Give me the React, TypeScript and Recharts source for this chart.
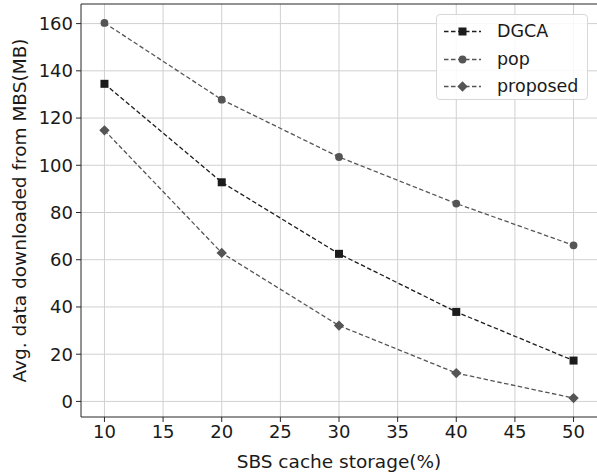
import React from 'react';
import {
  CartesianGrid,
  Line,
  LineChart,
  ReferenceLine,
  XAxis,
  YAxis,
} from 'recharts';

const storage = [10, 20, 30, 40, 50];
const dgca = [134.5, 92.8, 62.5, 37.9, 17.3];
const pop = [160.3, 127.8, 103.5, 83.8, 66.1];
const proposed = [114.8, 62.9, 32.1, 12.0, 1.4];
const xTicks = [10, 15, 20, 25, 30, 35, 40, 45, 50];
const yTicks = [0, 20, 40, 60, 80, 100, 120, 140, 160];

const X_DOMAIN: [number, number] = [8, 52];
const Y_DOMAIN: [number, number] = [-6.6, 168.3];

const FONT = '"DejaVu Sans", sans-serif';
const FONT_SIZE = 18;
const LABEL_SIZE = 18.5;
const SPINE = '#262626';
const GRID = '#d0d0d0';
const DASH = '4.5 2.5';

const data = storage.map((s, i) => ({ s, dgca: dgca[i], pop: pop[i], proposed: proposed[i] }));

type Shape = 'square' | 'circle' | 'diamond';

function Marker({ cx, cy, shape, color }: { cx: number; cy: number; shape: Shape; color: string }) {
  if (shape === 'square') return <rect x={cx - 4} y={cy - 4} width={8} height={8} fill={color} />;
  if (shape === 'circle') return <circle cx={cx} cy={cy} r={3.9} fill={color} />;
  return <polygon points={`${cx},${cy - 5.2} ${cx + 5.2},${cy} ${cx},${cy + 5.2} ${cx - 5.2},${cy}`} fill={color} />;
}

const SERIES: { key: string; name: string; color: string; shape: Shape }[] = [
  { key: 'dgca', name: 'DGCA', color: '#1c1c1c', shape: 'square' },
  { key: 'pop', name: 'pop', color: '#555555', shape: 'circle' },
  { key: 'proposed', name: 'proposed', color: '#555555', shape: 'diamond' },
];

// legend drawn outside the chart so it does not take space from the plot
function LegendBox() {
  return (
    <div
      style={{
        position: 'absolute',
        left: 436,
        top: 14,
        width: 150,
        height: 84,
        border: '1px solid #d8d8d8',
        borderRadius: 4,
        background: 'rgba(255,255,255,0.85)',
        fontFamily: FONT,
        fontSize: 17.5,
        color: '#1a1a1a',
      }}
    >
      {SERIES.map((s, i) => (
        <div key={s.key} style={{ position: 'absolute', left: 0, top: 3 + i * 27.5, height: 27, display: 'flex', alignItems: 'center' }}>
          <svg width={60} height={27} style={{ display: 'block' }}>
            <line x1={7} x2={44} y1={13.5} y2={13.5} stroke={s.color} strokeWidth={1.3} strokeDasharray={DASH} />
            <Marker cx={25.5} cy={13.5} shape={s.shape} color={s.color} />
          </svg>
          <span style={{ lineHeight: '27px' }}>{s.name}</span>
        </div>
      ))}
    </div>
  );
}

export default function App() {
  return (
    <div style={{ position: 'absolute', left: 0, top: 0, width: 597, height: 476, background: '#fff' }}>
      <LineChart width={597} height={476} data={data} margin={{ top: 4, right: 0, left: 0, bottom: 0 }}>
        <CartesianGrid stroke={GRID} strokeWidth={1} horizontalValues={yTicks} verticalValues={xTicks} />
        <XAxis
          dataKey="s"
          type="number"
          domain={X_DOMAIN}
          ticks={xTicks}
          allowDataOverflow
          height={59}
          tickSize={5}
          tickMargin={3}
          stroke={SPINE}
          tick={{ fill: '#1a1a1a', fontSize: FONT_SIZE, fontFamily: FONT }}
          label={{
            content: ({ viewBox }: any) => (
              <text
                x={viewBox.x + viewBox.width / 2}
                y={viewBox.y + 51}
                textAnchor="middle"
                fill="#1a1a1a"
                fontSize={LABEL_SIZE}
                fontFamily={FONT}
              >
                SBS cache storage(%)
              </text>
            ),
          }}
        />
        <YAxis
          type="number"
          domain={Y_DOMAIN}
          ticks={yTicks}
          allowDataOverflow
          width={81}
          tickSize={5}
          tickMargin={3}
          stroke={SPINE}
          tick={{ fill: '#1a1a1a', fontSize: FONT_SIZE, fontFamily: FONT }}
          label={{
            content: ({ viewBox }: any) => {
              const cx = 19;
              const cy = viewBox.y + viewBox.height / 2;
              return (
                <text
                  x={cx}
                  y={cy}
                  transform={`rotate(-90 ${cx} ${cy})`}
                  textAnchor="middle"
                  dominantBaseline="central"
                  fill="#1a1a1a"
                  fontSize={LABEL_SIZE}
                  fontFamily={FONT}
                >
                  Avg. data downloaded from MBS(MB)
                </text>
              );
            },
          }}
        />
        <ReferenceLine y={Y_DOMAIN[1]} stroke={SPINE} strokeWidth={1} ifOverflow="extendDomain" />
        {SERIES.map((s) => (
          <Line
            key={s.key}
            dataKey={s.key}
            name={s.name}
            type="linear"
            stroke={s.color}
            strokeWidth={1.3}
            strokeDasharray={DASH}
            isAnimationActive={false}
            dot={(p: any) => <Marker key={`${s.key}-${p.index}`} cx={p.cx} cy={p.cy} shape={s.shape} color={s.color} />}
            activeDot={false}
          />
        ))}
      </LineChart>
      <LegendBox />
    </div>
  );
}
